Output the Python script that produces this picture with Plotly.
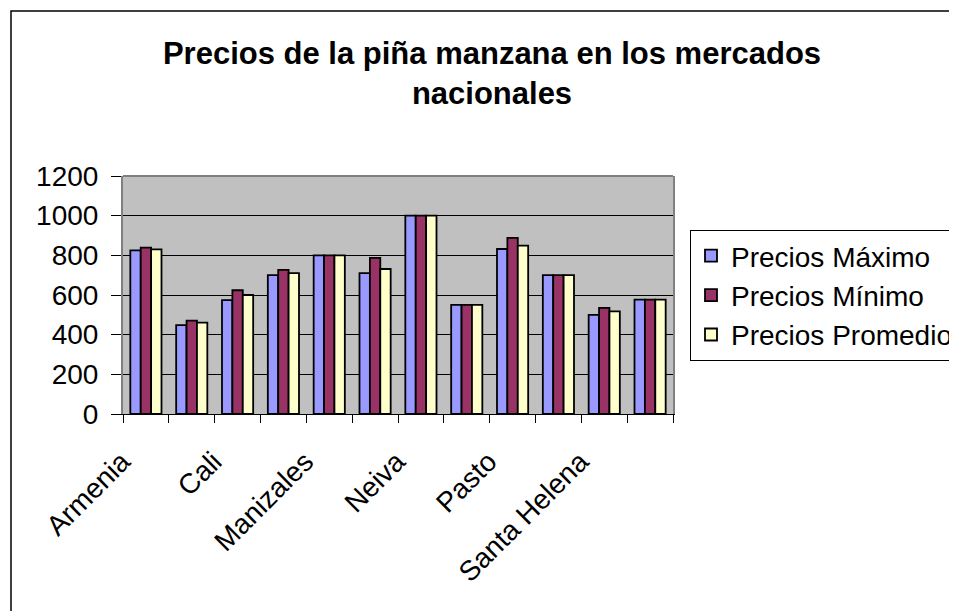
import plotly.graph_objects as go

# Data
mercados = ["Armenia", "Bogotá", "Cali", "Cúcuta", "Manizales", "Medellín",
            "Neiva", "Palmira", "Pasto", "Pereira", "Santa Helena", "Villavicencio"]
etiquetas_visibles = ["Armenia", "Cali", "Manizales", "Neiva", "Pasto", "Santa Helena"]
precio_maximo = [825, 448, 574, 700, 800, 710, 1000, 550, 832, 700, 500, 577]
precio_minimo = [839, 471, 624, 727, 800, 787, 1000, 550, 888, 700, 535, 577]
precio_promedio = [830, 461, 600, 710, 800, 731, 1000, 550, 849, 700, 517, 577]
series = ["Precios Máximo", "Precios Mínimo", "Precios Promedio"]
colores = ["#9999FF", "#993366", "#FFFFCC"]

FONT = "Arial, Liberation Sans, sans-serif"
OFF = 8                      # page body margin
W, H = 957 - OFF, 611 - OFF
# plot area in page pixels (reference), converted to figure pixels
L, R, T, B = 123 - OFF, 673 - OFF, 176 - OFF, 414 - OFF

fig = go.Figure()
for nombre, valores, color in zip(series, [precio_maximo, precio_minimo, precio_promedio], colores):
    fig.add_trace(go.Bar(x=mercados, y=valores, name=nombre,
                         marker=dict(color=color, line=dict(color="black", width=1.8))))

ticktext = [m if m in etiquetas_visibles else "" for m in mercados]

def px(xp):
    return (xp - OFF - L) / (R - L)

def py(yp):
    return (B - (yp - OFF)) / (B - T)

fig.update_layout(
    width=W, height=H,
    margin=dict(l=L, r=W - R, t=T, b=H - B, autoexpand=False),
    paper_bgcolor="white", plot_bgcolor="#C0C0C0",
    barmode="group", bargap=0.32, bargroupgap=0,
    font=dict(family=FONT, color="black"),
    title=dict(text="<b>Precios de la piña manzana en los mercados<br>nacionales</b>",
               x=(492 - OFF) / W, xref="container", xanchor="center",
               y=1 - 56 / H, yref="container", yanchor="top",
               font=dict(size=31, family=FONT, color="black")),
    legend=dict(x=px(690), y=py(230), xanchor="left", yanchor="top",
                bordercolor="black", borderwidth=1, bgcolor="white",
                font=dict(size=28, family=FONT), tracegroupgap=0),
    xaxis=dict(type="category", tickvals=mercados, ticktext=ticktext, tickangle=-45,
               tickson="boundaries", ticks="outside", ticklen=8, tickcolor="black",
               showline=True, linecolor="black", linewidth=1, showgrid=False,
               ticklabelshift=-24, ticklabelstandoff=19,
               tickfont=dict(size=28, family=FONT), automargin=False),
    yaxis=dict(range=[0, 1200], dtick=200, ticks="outside", ticklen=10, tickcolor="black",
               showline=True, linecolor="#808080", linewidth=2, mirror=True,
               showgrid=True, gridcolor="black", gridwidth=1, zeroline=False,
               ticklabelstandoff=7,
               tickfont=dict(size=28, family=FONT), automargin=False),
    shapes=[
        dict(type="line", xref="paper", yref="paper", x0=0, x1=1, y0=1, y1=1,
             line=dict(color="#808080", width=2)),
        dict(type="rect", xref="paper", yref="paper",
             x0=px(11), x1=px(990), y0=py(640), y1=py(11),
             line=dict(color="black", width=1.5), fillcolor="rgba(0,0,0,0)"),
    ],
)

fig.write_html("out.html")
